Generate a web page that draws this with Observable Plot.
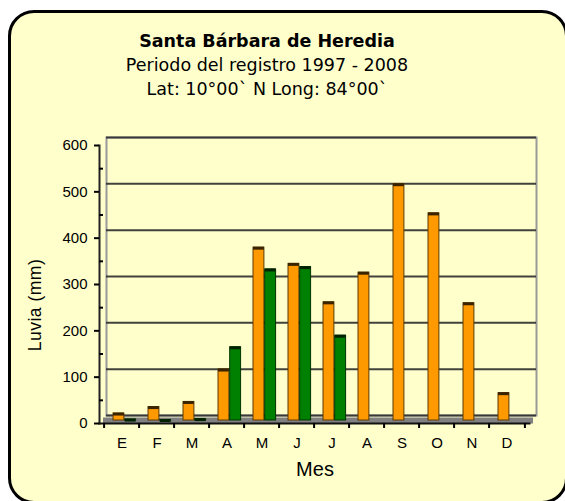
<!DOCTYPE html>
<html>
<head>
<meta charset="utf-8">
<script src="https://cdn.jsdelivr.net/npm/d3@7"></script>
<script src="https://cdn.jsdelivr.net/npm/@observablehq/plot@0.6"></script>
<style>
  html, body { margin: 0; padding: 0; background: #ffffff; width: 565px; height: 501px; overflow: hidden; }
  #page { position: relative; width: 565px; height: 501px; overflow: hidden; }
  #box { position: absolute; left: 8px; top: 10px; width: 560px; height: 494px; box-sizing: border-box;
         border: 3.5px solid #000; border-radius: 26px; background: #ffffcc; }
  #titles { position: absolute; left: 0; top: 29.3px; width: 534px; text-align: center;
            font-family: "DejaVu Sans", Verdana, sans-serif; font-size: 17.5px; line-height: 24px; color: #000; }
  #titles .t { font-weight: bold; }
  #chart { position: absolute; left: 0; top: 120px; width: 565px; height: 370px; }
  #ylab { position: absolute; left: 35.5px; top: 305px; transform: translate(-50%, -50%) rotate(-90deg);
          white-space: nowrap; font-family: "Liberation Sans", Arial, sans-serif; font-size: 17.5px; letter-spacing: 0.5px; line-height: 1; }
  #xlab { position: absolute; left: 215px; width: 200px; top: 459px; text-align: center;
          font-family: "Liberation Sans", Arial, sans-serif; font-size: 20px; line-height: 20px; }
</style>
</head>
<body>
<div id="page">
  <div id="box"></div>
  <div id="titles">
    <div class="t">Santa Bárbara de Heredia</div>
    <div>Periodo del registro 1997 - 2008</div>
    <div>Lat: 10°00` N Long: 84°00`</div>
  </div>
  <div id="chart"></div>
  <div id="ylab">Luvia (mm)</div>
  <div id="xlab">Mes</div>
</div>
<script>
// ---- data ----
const monthKeys   = ["Ene","Feb","Mar","Abr","May","Jun","Jul","Ago","Sep","Oct","Nov","Dic"];
const monthLabels = ["E","F","M","A","M","J","J","A","S","O","N","D"];
const seriesOrange = [15, 29, 40, 110, 373, 338, 255, 319, 510, 447, 253, 59];
const seriesGreen  = [2, 1, 3, 158, 326, 331, 183, null, null, null, null, null];
const yTicks      = [0, 100, 200, 300, 400, 500, 600];
const yMinorTicks = [50, 150, 250, 350, 450, 550];

const orangeData = monthKeys.map((m, i) => ({mes: m, v: seriesOrange[i]}));
const greenData  = monthKeys.map((m, i) => ({mes: m, v: seriesGreen[i]})).filter(d => d.v != null);
const label = d => monthLabels[monthKeys.indexOf(d)];

const W = 565, H = 370, ML = 99, MR = 36, MT = 25, MB = 67;
const bw = (W - ML - MR) / monthKeys.length;

const chart = Plot.plot({
  width: W, height: H,
  marginLeft: ML, marginRight: MR, marginTop: MT, marginBottom: MB,
  style: {background: "transparent", fontFamily: "'Liberation Sans', Arial, sans-serif", fontSize: "15px", color: "#000", overflow: "visible"},
  x: {domain: monthKeys, padding: 0},
  y: {domain: [0, 600]},
  marks: [
    // back wall (3D depth offset)
    Plot.frame({dx: 7, dy: -8, stroke: "#9a9a9a", strokeWidth: 2}),
    Plot.ruleY(yTicks, {dx: 7, dy: -8, stroke: "#2e2e2e", strokeWidth: 2, strokeOpacity: 0.9}),
    // floor
    Plot.ruleY([0], {dx: 4, dy: -3, stroke: "#808080", strokeWidth: 6}),
    // bars
    Plot.barY(orangeData, {x: "mes", y: "v", dy: -3, insetLeft: 9, insetRight: 15.1, fill: "#ff9900", stroke: "#5c3a00", strokeWidth: 1}),
    Plot.barY(greenData, {x: "mes", y: "v", dy: -3, insetLeft: 20.7, insetRight: 3.4, fill: "#008000", stroke: "#003300", strokeWidth: 1}),
    Plot.tickY(orangeData, {x: "mes", y: "v", dy: -2.5, insetLeft: 9, insetRight: 15.1, stroke: "#3a2400", strokeWidth: 3}),
    Plot.tickY(greenData, {x: "mes", y: "v", dy: -2.5, insetLeft: 20.7, insetRight: 3.4, stroke: "#002200", strokeWidth: 3}),
    // front axis lines
    Plot.frame({anchor: "left", stroke: "#222", strokeWidth: 2}),
    Plot.frame({anchor: "bottom", stroke: "#111", strokeWidth: 2}),
    // y axis
    Plot.axisY({ticks: yTicks, tickSize: 5, tickPadding: 7, strokeWidth: 2, label: null, fontSize: 15}),
    Plot.axisY({ticks: yMinorTicks, tickSize: 4, dx: 4, strokeWidth: 2, tickFormat: () => "", label: null}),
    // x axis: labels at centres, ticks at boundaries
    Plot.axisX({tickSize: 0, tickPadding: 13.5, tickFormat: label, label: null, fontSize: 15}),
    Plot.axisX({tickSize: 5, dx: -bw / 2, strokeWidth: 2, tickFormat: () => "", label: null}),
    Plot.axisX([monthKeys[monthKeys.length - 1]], {tickSize: 5, dx: bw / 2, strokeWidth: 2, tickFormat: () => "", label: null})
  ]
});
document.getElementById("chart").appendChild(chart);
</script>
</body>
</html>
